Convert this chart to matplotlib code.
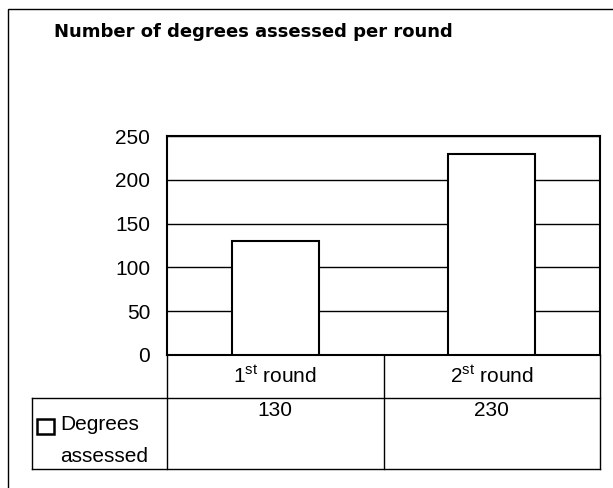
import matplotlib
matplotlib.use("Agg")
import matplotlib.pyplot as plt
from matplotlib.lines import Line2D
from matplotlib.patches import Rectangle

plt.rcParams['font.family'] = ['Liberation Sans', 'DejaVu Sans']
plt.rcParams['mathtext.fontset'] = 'custom'
plt.rcParams['mathtext.rm'] = 'Liberation Sans'
plt.rcParams['mathtext.it'] = 'Liberation Sans:italic'

# data
title = "Number of degrees assessed per round"
round_nums = ["1", "2"]
round_sups = ["st", "st"]   # as printed in the original
series_name = ["Degrees", "assessed"]
values = [130, 230]
yticks = [0, 50, 100, 150, 200, 250]

W, H = 613, 488
fig = plt.figure(figsize=(W / 100, H / 100), dpi=100)


def fx(x):
    return x / W


def fy(y):
    return 1 - y / H


def fline(x0, y0, x1, y1, lw=1.0):
    fig.add_artist(Line2D([fx(x0), fx(x1)], [fy(y0), fy(y1)],
                          transform=fig.transFigure, color='black', lw=lw))


# outer chart border (runs past the bottom/right of the scan)
fig.add_artist(Rectangle((fx(8), fy(540)), fx(700) - fx(8), fy(9) - fy(540),
                         transform=fig.transFigure, fill=False,
                         edgecolor='black', lw=1.0))

fig.text(fx(54), fy(37), title, fontsize=13, fontweight='bold',
         family='DejaVu Sans', ha='left', va='baseline')

# plot area
L, R, T, B = 167, 600, 136, 355
ax = fig.add_axes([fx(L), fy(B), fx(R) - fx(L), fy(T) - fy(B)])
xs = list(range(len(values)))
ax.bar(xs, values, width=0.4, color='white', edgecolor='black', lw=1.5, zorder=3)
ax.set_xlim(-0.5, len(values) - 0.5)
ax.set_ylim(0, 250)
ax.set_yticks(yticks)
ax.set_xticks([])
ax.yaxis.grid(True, color='black', lw=1.0)
ax.set_axisbelow(True)
ax.tick_params(axis='y', length=0, pad=12, labelsize=15)
for s in ax.spines.values():
    s.set_linewidth(1.5)

# data table under the plot
row1_bot, row2_bot, key_left = 398, 469, 32
col_edges = [L + (R - L) * i / len(values) for i in range(len(values) + 1)]
for x in col_edges:
    fline(x, B, x, row2_bot)
fline(key_left, row1_bot, R, row1_bot)
fline(key_left, row2_bot, R, row2_bot)
fline(key_left, row1_bot, key_left, row2_bot)

for i, (n, s, v) in enumerate(zip(round_nums, round_sups, values)):
    cx = (col_edges[i] + col_edges[i + 1]) / 2
    fig.text(fx(cx), fy(376), n + r"$^{\mathrm{" + s + "}}$ round",
             fontsize=15, ha='center', va='center')
    fig.text(fx(cx), fy(411), str(v), fontsize=15, ha='center', va='center')

fig.add_artist(Rectangle((fx(37), fy(434)), fx(54) - fx(37), fy(419) - fy(434),
                         transform=fig.transFigure, fill=False,
                         edgecolor='black', lw=1.8))
fig.text(fx(60), fy(425), series_name[0], fontsize=15, ha='left', va='center')
fig.text(fx(60), fy(456), series_name[1], fontsize=15, ha='left', va='center')

fig.savefig("out.png", dpi=100)
